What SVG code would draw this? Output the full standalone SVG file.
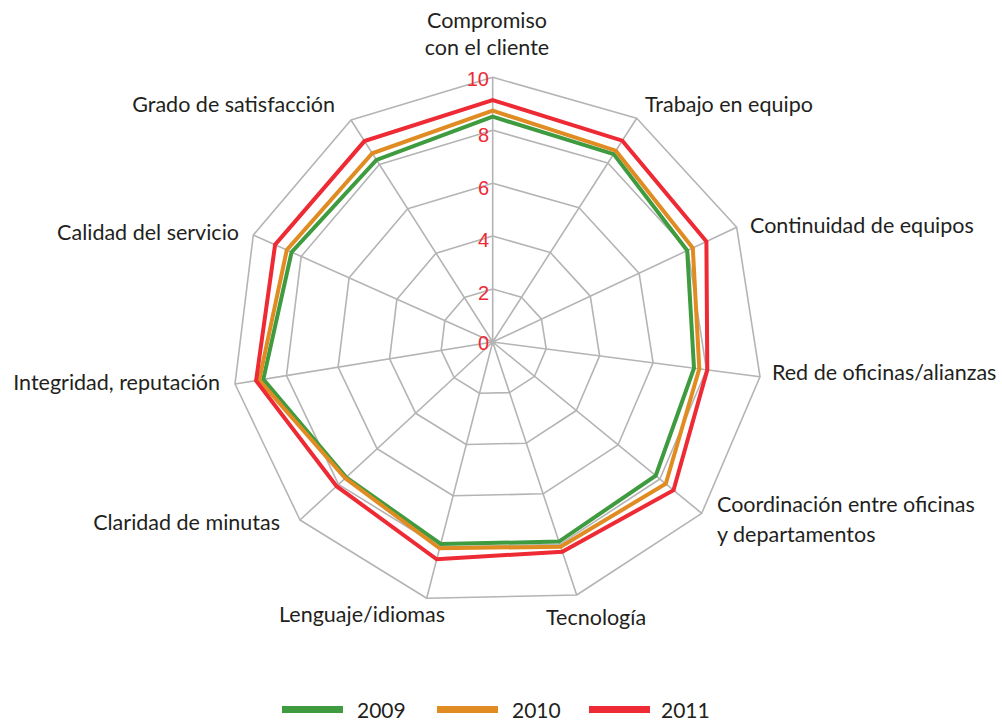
<svg xmlns="http://www.w3.org/2000/svg" width="1002" height="722" viewBox="0 0 1002 722">
<style>
.grid{fill:none;stroke:#b4b4b4;stroke-width:1.6;stroke-linejoin:round}
.ser{fill:none;stroke-width:4;stroke-linejoin:miter}
.lbl{font-family:"Lato","Liberation Sans",sans-serif;font-size:21.5px;fill:#231f20}
.tick{font-family:"Liberation Sans",sans-serif;font-size:20px;fill:#ee2a34;text-anchor:end}
.leg{font-family:"Lato","Liberation Sans",sans-serif;font-size:21px;fill:#231f20}
</style>
<rect width="1002" height="722" fill="#ffffff"/>
<g id="grid">
<polygon class="grid" points="492.7,289.1 521.5,297.3 541.5,319.1 546.2,348.9 534.5,376.3 509.5,392.6 479.5,393.3 454.2,377.6 441.2,350.4 444.8,320.6 464.4,297.6"/>
<polygon class="grid" points="492.7,236.1 550.3,252.5 590.3,296.1 599.6,355.9 576.3,410.5 526.3,443.2 466.3,444.5 415.6,413.2 389.6,358.8 396.9,299.2 436.0,253.2"/>
<polygon class="grid" points="492.7,183.2 579.1,207.8 639.1,273.2 653.1,362.8 618.1,444.8 543.1,493.8 453.1,495.8 377.1,448.8 338.1,367.2 349.1,277.8 407.7,208.8"/>
<polygon class="grid" points="492.7,130.2 607.9,163.0 687.9,250.2 706.5,369.8 659.9,479.0 559.9,544.4 439.9,547.0 338.5,484.4 286.5,375.6 301.2,256.4 379.3,164.4"/>
<polygon class="grid" points="492.7,77.3 636.7,118.3 736.7,227.3 760,376.7 701.7,513.3 576.7,595 426.7,598.3 300,520 235,384 253.3,235 351,120"/>
<path class="grid" d="M492.7,342L492.7,77.3M492.7,342L636.7,118.3M492.7,342L736.7,227.3M492.7,342L760,376.7M492.7,342L701.7,513.3M492.7,342L576.7,595M492.7,342L426.7,598.3M492.7,342L300,520M492.7,342L235,384M492.7,342L253.3,235M492.7,342L351,120"/>
</g>
<g id="ticks">
<text class="tick" x="489" y="86">10</text>
<text class="tick" x="489" y="142">8</text>
<text class="tick" x="489" y="195">6</text>
<text class="tick" x="489" y="247">4</text>
<text class="tick" x="489" y="300">2</text>
<text class="tick" x="489" y="350">0</text>
</g>
<g id="series">
<polygon id="s2009" class="ser" stroke="#3f9b3f" points="492.7,116.7 613.7,154.1 687.2,250.6 694.0,368.1 655.7,475.6 559.0,541.6 440.7,544.0 346.2,477.3 263.3,379.4 291.6,252.1 376.5,160.0"/>
<polygon id="s2010" class="ser" stroke="#e08c22" points="492.7,110.7 615.8,150.7 692.8,247.9 699.3,368.8 665.8,483.8 560.7,546.7 439.6,548.3 345.3,478.2 259.2,380.1 286.8,250.0 372.3,153.3"/>
<polygon id="s2011" class="ser" stroke="#ee2a34" points="492.7,100.1 622.3,140.7 706.4,241.5 707.3,369.9 673.5,490.2 562.3,551.7 436.7,559.3 336.6,486.2 256.1,380.6 275.1,244.7 364.5,141.1"/>
</g>
<g id="labels">
<text class="lbl" x="487" y="28" text-anchor="middle">Compromiso</text>
<text class="lbl" x="487" y="55" text-anchor="middle">con el cliente</text>
<text class="lbl" x="645" y="112">Trabajo en equipo</text>
<text class="lbl" x="750" y="233">Continuidad de equipos</text>
<text class="lbl" x="772" y="380">Red de oficinas/alianzas</text>
<text class="lbl" x="717" y="512">Coordinación entre oficinas</text>
<text class="lbl" x="717" y="542">y departamentos</text>
<text class="lbl" x="546" y="625">Tecnología</text>
<text class="lbl" x="445" y="622" text-anchor="end">Lenguaje/idiomas</text>
<text class="lbl" x="280" y="530" text-anchor="end">Claridad de minutas</text>
<text class="lbl" x="220" y="390" text-anchor="end">Integridad, reputación</text>
<text class="lbl" x="239" y="240" text-anchor="end">Calidad del servicio</text>
<text class="lbl" x="335" y="112" text-anchor="end">Grado de satisfacción</text>
</g>
<g id="legend">
<line x1="282" y1="709.5" x2="343" y2="709.5" stroke="#3f9b3f" stroke-width="7"/>
<text class="leg" x="357" y="718">2009</text>
<line x1="437" y1="709.5" x2="498" y2="709.5" stroke="#e08c22" stroke-width="7"/>
<text class="leg" x="512" y="718">2010</text>
<line x1="589" y1="709.5" x2="650" y2="709.5" stroke="#ee2a34" stroke-width="7"/>
<text class="leg" x="661" y="718">2011</text>
</g>
</svg>
